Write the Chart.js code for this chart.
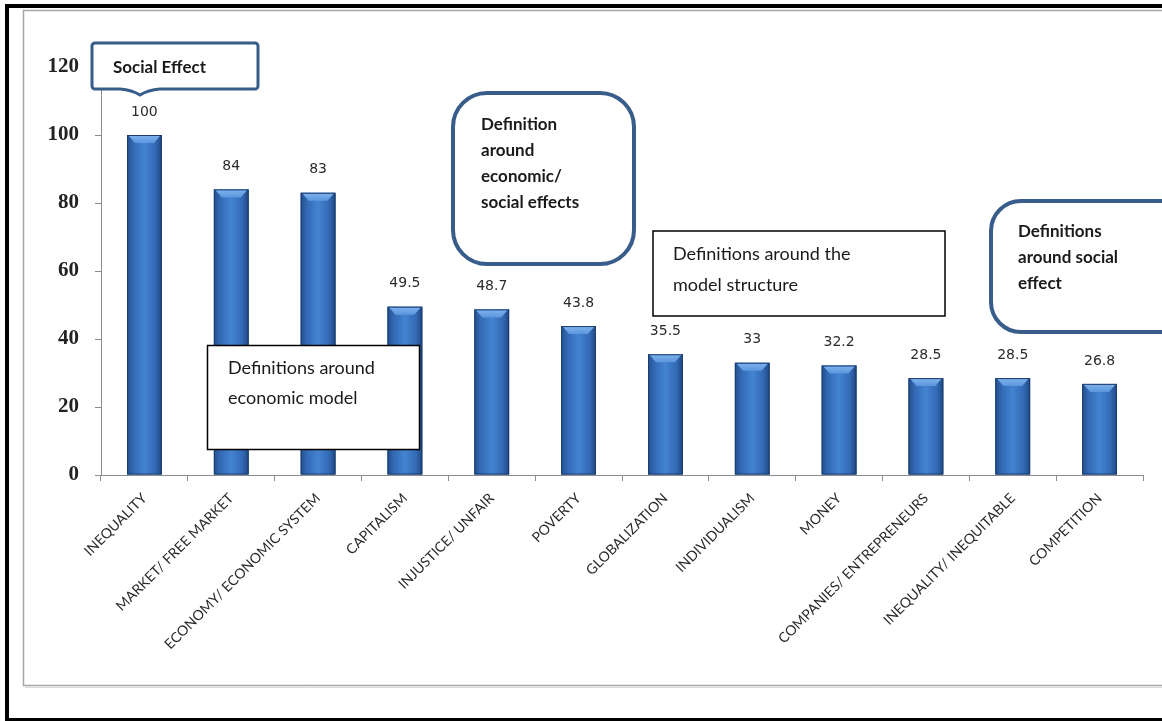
<!DOCTYPE html>
<html>
<head>
<meta charset="utf-8">
<title>Word associations</title>
<script src="https://cdn.jsdelivr.net/npm/chart.js@4.4.1/dist/chart.umd.min.js"></script>
<style>
  html, body { margin: 0; padding: 0; background: #ffffff; overflow: hidden; }
  #wrap { width: 1162px; height: 721px; position: relative; }
</style>
</head>
<body>
<div id="wrap"><canvas id="c" width="1162" height="721"></canvas></div>
<script>
// Categories and their scores
const categories = [
  'INEQUALITY',
  'MARKET/ FREE MARKET',
  'ECONOMY/ ECONOMIC SYSTEM',
  'CAPITALISM',
  'INJUSTICE/ UNFAIR',
  'POVERTY',
  'GLOBALIZATION',
  'INDIVIDUALISM',
  'MONEY',
  'COMPANIES/ ENTREPRENEURS',
  'INEQUALITY/ INEQUITABLE',
  'COMPETITION'
];
const scores = [100, 84, 83, 49.5, 48.7, 43.8, 35.5, 33, 32.2, 28.5, 28.5, 26.8];
const scoreLabels = ['100', '84', '83', '49.5', '48.7', '43.8', '35.5', '33', '32.2', '28.5', '28.5', '26.8'];
const yTicks = [0, 20, 40, 60, 80, 100, 120];

// Callout and note texts
const noteSocial = ['Social Effect'];
const noteEconSocial = ['Definition', 'around', 'economic/', 'social effects'];
const noteStructure = ['Definitions around the', 'model structure'];
const noteSocialEffect = ['Definitions', 'around social', 'effect'];
const noteEconModel = ['Definitions around', 'economic model'];

const OUTLINE = '#385d8a';
const TEXT = '#1a1a1a';

// Page frame: black outer border and grey chart frame
const framePlugin = {
  id: 'frame',
  beforeDraw(chart) {
    const ctx = chart.ctx;
    ctx.save();
    ctx.fillStyle = '#ffffff';
    ctx.fillRect(0, 0, chart.width, chart.height);
    // grey chart frame
    ctx.strokeStyle = '#a6a6a6';
    ctx.lineWidth = 1.5;
    ctx.beginPath();
    ctx.moveTo(chart.width, 10.5);
    ctx.lineTo(23.5, 10.5);
    ctx.lineTo(23.5, 685.5);
    ctx.lineTo(chart.width, 685.5);
    ctx.stroke();
    ctx.strokeStyle = '#d9d9d9';
    ctx.lineWidth = 1;
    ctx.beginPath();
    ctx.moveTo(25, 687.5);
    ctx.lineTo(chart.width, 687.5);
    ctx.stroke();
    // black outer border
    ctx.fillStyle = '#000000';
    ctx.fillRect(5, 4, chart.width - 5, 4);
    ctx.fillRect(5, 4, 4, chart.height - 4);
    ctx.fillRect(5, 718, chart.width - 5, 3);
    ctx.restore();
  }
};

// Shaded bar faces, bevelled tops and value labels
const barStylePlugin = {
  id: 'barStyle',
  afterDatasetsDraw(chart) {
    const ctx = chart.ctx;
    const meta = chart.getDatasetMeta(0);
    ctx.save();
    meta.data.forEach((bar, i) => {
      const p = bar.getProps(['x', 'y', 'base', 'width'], true);
      const x0 = p.x - p.width / 2, x1 = p.x + p.width / 2;
      const top = p.y, base = p.base;
      const g = ctx.createLinearGradient(x0, 0, x1, 0);
      g.addColorStop(0, '#24508e');
      g.addColorStop(0.18, '#3369b4');
      g.addColorStop(0.5, '#4384d2');
      g.addColorStop(0.82, '#3369b4');
      g.addColorStop(1, '#1f4781');
      ctx.fillStyle = g;
      ctx.fillRect(x0, top, p.width, base - top);
      // bevel
      const b = 8;
      const gb = ctx.createLinearGradient(0, top, 0, top + b);
      gb.addColorStop(0, '#80b3ee');
      gb.addColorStop(1, '#5b96dc');
      ctx.fillStyle = gb;
      ctx.beginPath();
      ctx.moveTo(x0 + 1, top);
      ctx.lineTo(x1 - 1, top);
      ctx.lineTo(x1 - b, top + b);
      ctx.lineTo(x0 + b, top + b);
      ctx.closePath();
      ctx.fill();
      ctx.strokeStyle = '#1c3c6c';
      ctx.lineWidth = 1;
      ctx.strokeRect(x0 + 0.5, top + 0.5, p.width - 1, base - top - 1);
      // value label
      ctx.fillStyle = '#2b2b2b';
      ctx.font = '14px "DejaVu Sans"';
      ctx.textAlign = 'center';
      ctx.textBaseline = 'middle';
      ctx.fillText(scoreLabels[i], p.x, top - 23);
    });
    ctx.restore();
  }
};

function roundRectPath(ctx, x, y, w, h, r) {
  ctx.beginPath();
  ctx.moveTo(x + r, y);
  ctx.lineTo(x + w - r, y);
  ctx.arcTo(x + w, y, x + w, y + r, r);
  ctx.lineTo(x + w, y + h - r);
  ctx.arcTo(x + w, y + h, x + w - r, y + h, r);
  ctx.lineTo(x + r, y + h);
  ctx.arcTo(x, y + h, x, y + h - r, r);
  ctx.lineTo(x, y + r);
  ctx.arcTo(x, y, x + r, y, r);
  ctx.closePath();
}

function drawLines(ctx, lines, x, y, step, font) {
  ctx.font = font;
  ctx.fillStyle = TEXT;
  ctx.textAlign = 'left';
  ctx.textBaseline = 'middle';
  lines.forEach((t, k) => ctx.fillText(t, x, y + k * step));
}

// Notes and callouts over the plot
const notesPlugin = {
  id: 'notes',
  afterDraw(chart) {
    const ctx = chart.ctx;
    ctx.save();

    // callout with pointer
    ctx.beginPath();
    const l = 92, r = 258, t = 43, b = 89, rr = 3;
    ctx.moveTo(l + rr, t);
    ctx.lineTo(r - rr, t);
    ctx.arcTo(r, t, r, t + rr, rr);
    ctx.lineTo(r, b - rr);
    ctx.arcTo(r, b, r - rr, b, rr);
    ctx.lineTo(160, b);
    ctx.quadraticCurveTo(148, b + 1, 140, b + 6);
    ctx.quadraticCurveTo(132, b + 1, 120, b);
    ctx.lineTo(l + rr, b);
    ctx.arcTo(l, b, l, b - rr, rr);
    ctx.lineTo(l, t + rr);
    ctx.arcTo(l, t, l + rr, t, rr);
    ctx.closePath();
    ctx.fillStyle = '#ffffff';
    ctx.fill();
    ctx.strokeStyle = OUTLINE;
    ctx.lineWidth = 3;
    ctx.stroke();
    drawLines(ctx, noteSocial, 113, 68, 26, 'bold 17px Lato');

    // rounded note: economic/social effects
    roundRectPath(ctx, 453, 93, 181, 171, 34);
    ctx.fillStyle = '#ffffff';
    ctx.fill();
    ctx.lineWidth = 4;
    ctx.strokeStyle = OUTLINE;
    ctx.stroke();
    drawLines(ctx, noteEconSocial, 481, 125, 26, 'bold 17px Lato');

    // rounded note: social effect
    roundRectPath(ctx, 991, 201, 200, 131, 30);
    ctx.fillStyle = '#ffffff';
    ctx.fill();
    ctx.lineWidth = 4;
    ctx.strokeStyle = OUTLINE;
    ctx.stroke();
    drawLines(ctx, noteSocialEffect, 1018, 232, 26, 'bold 17px Lato');

    // plain note: model structure
    ctx.fillStyle = '#ffffff';
    ctx.fillRect(653, 231, 292, 85);
    ctx.lineWidth = 1.5;
    ctx.strokeStyle = '#000000';
    ctx.strokeRect(653, 231, 292, 85);
    drawLines(ctx, noteStructure, 673, 254, 31, '18px Lato');

    // plain note: economic model
    ctx.fillStyle = '#ffffff';
    ctx.fillRect(207.5, 345.5, 212, 104);
    ctx.strokeRect(207.5, 345.5, 212, 104);
    drawLines(ctx, noteEconModel, 228, 368, 30, '18px Lato');

    ctx.restore();
  }
};

new Chart(document.getElementById('c'), {
  type: 'bar',
  data: {
    labels: categories,
    datasets: [{
      data: scores,
      backgroundColor: '#3a75c0',
      borderWidth: 0,
      barPercentage: 0.4,
      categoryPercentage: 1.0
    }]
  },
  options: {
    responsive: false,
    animation: false,
    devicePixelRatio: 1,
    layout: { padding: { top: 67, right: 19, left: 0, bottom: 0 } },
    plugins: {
      legend: { display: false },
      tooltip: { enabled: false },
      title: { display: false }
    },
    scales: {
      x: {
        grid: { offset: true, drawOnChartArea: false, tickLength: 6, color: '#8c8c8c' },
        border: { color: '#8c8c8c', width: 1 },
        ticks: {
          autoSkip: false,
          maxRotation: 45,
          minRotation: 45,
          padding: 9,
          color: '#2a2a2a',
          font: { family: 'Lato', size: 14 }
        },
        afterFit(s) { s.height = 246; }
      },
      y: {
        min: 0,
        max: 120,
        afterBuildTicks(s) { s.ticks = yTicks.map(v => ({ value: v })); },
        grid: { drawOnChartArea: false, tickLength: 6, color: '#8c8c8c' },
        border: { color: '#8c8c8c', width: 1 },
        ticks: {
          padding: 16,
          color: '#222222',
          font: { family: 'Liberation Serif', weight: 'bold', size: 21 }
        },
        afterFit(s) { s.width = 101; }
      }
    }
  },
  plugins: [framePlugin, barStylePlugin, notesPlugin]
});
</script>
</body>
</html>
